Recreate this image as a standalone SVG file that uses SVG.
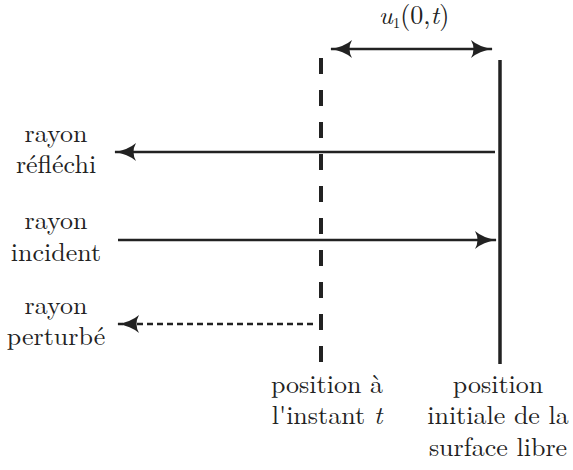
<svg xmlns="http://www.w3.org/2000/svg" width="573" height="470" viewBox="0 0 573 470">
<style>
text{font-family:"Latin Modern Roman","Liberation Serif","DejaVu Serif",serif;font-size:26px;fill:#222;text-anchor:middle}
.ln{stroke:#222;stroke-width:2.6;fill:none}
</style>
<defs>
<marker id="ah" viewBox="0 0 22 20" refX="21" refY="10" markerWidth="22" markerHeight="20" markerUnits="userSpaceOnUse" orient="auto-start-reverse">
<path d="M0,1 Q8,8 22,10 Q8,12 0,19 Q5,10 0,1 Z" fill="#222"/>
</marker>
</defs>
<g id="surface-initiale"><line x1="500" y1="60" x2="500" y2="364" class="ln" style="stroke-width:3.5"/></g>
<g id="position-t"><line x1="321" y1="58" x2="321" y2="364" class="ln" style="stroke-width:4;stroke-dasharray:16 16"/></g>
<g id="connectors">
<line x1="331" y1="49" x2="492" y2="49" class="ln" marker-start="url(#ah)" marker-end="url(#ah)"/>
<line x1="495" y1="152" x2="115" y2="152" class="ln" marker-end="url(#ah)"/>
<line x1="118" y1="240" x2="496" y2="240" class="ln" marker-end="url(#ah)"/>
<line x1="313" y1="324" x2="118" y2="324" class="ln" style="stroke-dasharray:6 4" marker-end="url(#ah)"/>
</g>
<g id="label-u"><text x="414" y="24" font-size="24"><tspan font-style="italic">u</tspan><tspan font-size="15" dy="4">1</tspan><tspan dy="-4">(0,</tspan><tspan font-style="italic">t</tspan>)</text></g>
<g id="label-reflechi"><text x="56" y="142">rayon</text><text x="56" y="173">réfléchi</text></g>
<g id="label-incident"><text x="56" y="229">rayon</text><text x="56" y="261">incident</text></g>
<g id="label-perturbe"><text x="56" y="314">rayon</text><text x="56" y="345">perturbé</text></g>
<g id="label-position-t"><text x="327" y="393">position à</text><text x="327" y="424">l'instant <tspan font-style="italic">t</tspan></text></g>
<g id="label-position-initiale"><text x="498" y="393">position</text><text x="498" y="424">initiale de la</text><text x="498" y="456">surface libre</text></g>
</svg>
